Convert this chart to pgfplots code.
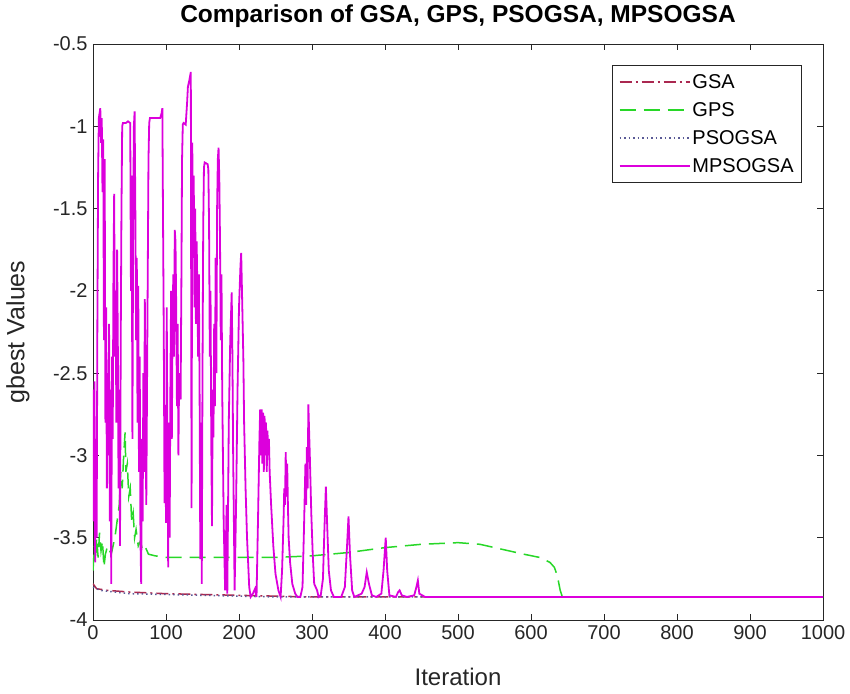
\documentclass[border=0pt]{standalone}
\usepackage{fontspec}
\setmainfont{Liberation Sans}
\usepackage{pgfplots}
\pgfplotsset{compat=1.18}
\definecolor{gsacol}{RGB}{170,40,80}
\definecolor{gpscol}{RGB}{40,215,40}
\definecolor{psocol}{RGB}{90,90,150}
\definecolor{mpcol}{RGB}{220,0,220}
\definecolor{axcol}{RGB}{38,38,38}
\begin{document}
\begin{tikzpicture}
\path[use as bounding box] (-93pt,-73pt) rectangle (757pt,620pt);
\begin{axis}[
  at={(0pt,0pt)}, anchor=south west,
  scale only axis, width=730pt, height=576pt,
  xmin=0, xmax=1000, ymin=-4, ymax=-0.5,
  xtick={0,100,...,1000}, ytick={-4,-3.5,...,-0.5},
  yticklabels={-4,-3.5,-3,-2.5,-2,-1.5,-1,-0.5},
  tick align=inside, major tick length=6pt,
  axis line style={axcol, line width=0.8pt},
  tick style={axcol, line width=0.8pt},
  /pgf/number format/assume math mode=true,
  /pgf/number format/1000 sep={},
  ticklabel style={font=\fontsize{20}{24}\selectfont, text=axcol},
  xticklabel style={yshift=-2pt},
  yticklabel style={xshift=-2pt},
  title={Comparison of GSA, GPS, PSOGSA, MPSOGSA},
  title style={font=\bfseries\fontsize{24.5}{28}\selectfont, at={([yshift=22pt]axis description cs:0.5,1)}, anchor=center},
  xlabel={Iteration},
  xlabel style={font=\fontsize{24}{28}\selectfont, text=axcol, at={([yshift=-57pt]axis description cs:0.5,0)}, anchor=center},
  ylabel={gbest Values},
  ylabel style={font=\fontsize{25}{29}\selectfont, text=axcol, at={([xshift=-75pt]axis description cs:0,0.5)}, anchor=center},
  legend style={at={(1,1)}, anchor=north east, xshift=-21pt, yshift=-21pt,
    font=\fontsize{20}{24}\selectfont, draw=axcol, line width=0.8pt,
    row sep=8.5pt, inner xsep=6pt, inner ysep=7pt},
  legend cell align=left,
  legend image code/.code={\draw[#1] (0pt,0pt) -- (70pt,0pt);},
  every axis plot/.append style={line width=1.5pt},
]
% GSA
\addplot[gsacol, dash pattern=on 12pt off 4pt on 2pt off 4pt] coordinates {
(0,-3.78) (5,-3.81) (20,-3.82) (50,-3.83) (100,-3.84) (200,-3.85) (300,-3.86) (1000,-3.86)};
\addlegendentry{GSA}
% GPS
\addplot[gpscol, dash pattern=on 16pt off 8pt] coordinates {
(0,-3.70) (2,-3.55) (3,-3.65) (5,-3.50) (7,-3.62) (9,-3.47) (11,-3.58) (13,-3.52)
(15,-3.68) (17,-3.60) (20,-3.55) (25,-3.60) (30,-3.50) (33,-3.40) (36,-3.30)
(38,-3.10) (40,-3.20) (42,-3.00) (44,-2.86) (45,-3.10) (47,-3.05) (49,-3.25)
(51,-3.20) (53,-3.40) (55,-3.35) (57,-3.50) (59,-3.45) (62,-3.55) (65,-3.52)
(68,-3.58) (72,-3.56) (76,-3.60) (85,-3.61) (100,-3.62) (150,-3.62) (200,-3.62)
(250,-3.62) (300,-3.61) (350,-3.59) (400,-3.56) (450,-3.54) (500,-3.53)
(530,-3.54) (560,-3.57) (590,-3.60) (612,-3.62) (626,-3.65) (632,-3.68)
(636,-3.73) (640,-3.82) (643,-3.86) (1000,-3.86)};
\addlegendentry{GPS}
% PSOGSA
\addplot[psocol, dash pattern=on 1.5pt off 3pt] coordinates {
(0,-3.80) (10,-3.82) (50,-3.84) (150,-3.85) (250,-3.86) (1000,-3.86)};
\addlegendentry{PSOGSA}
% MPSOGSA
\addplot[mpcol, line width=1.8pt] coordinates {
(0,-2.60) (1,-3.40) (2,-2.55) (3,-3.65) (4,-2.90) (5,-3.50) (6,-2.20) (7,-1.30)
(8,-0.95) (10,-0.89) (11,-1.10) (12,-0.95) (13,-1.40) (14,-1.08) (15,-2.30)
(16,-1.20) (17,-2.80) (18,-2.10) (19,-3.20) (20,-2.50) (21,-3.00) (22,-2.20)
(23,-3.40) (24,-2.60) (25,-3.78) (26,-2.40) (27,-2.90) (28,-1.90) (29,-1.41)
(30,-2.40) (31,-2.00) (32,-2.80) (33,-1.75) (34,-2.30) (35,-3.20) (36,-2.60)
(37,-3.55) (38,-2.30) (39,-1.50) (40,-1.00) (41,-0.98) (45,-0.98) (48,-0.97)
(51,-0.98) (52,-2.00) (53,-1.30) (54,-2.90) (55,-1.60) (56,-1.00) (57,-0.91)
(58,-1.50) (59,-2.30) (60,-1.80) (61,-2.80) (62,-1.97) (63,-3.10) (64,-2.40)
(65,-3.50) (66,-3.78) (67,-2.90) (68,-3.40) (69,-2.50) (70,-3.10) (71,-2.05)
(72,-2.80) (73,-3.30) (74,-2.60) (75,-1.90) (76,-1.20) (77,-0.98) (78,-0.95)
(85,-0.95) (92,-0.95) (94,-0.92) (95,-0.89) (96,-1.61) (97,-2.30) (98,-3.29)
(99,-2.70) (100,-3.41) (101,-2.10) (102,-3.00) (103,-3.68) (104,-2.80)
(105,-3.50) (106,-2.60) (107,-2.00) (108,-2.90) (109,-2.20) (110,-1.90)
(111,-2.40) (112,-1.63) (113,-1.70) (114,-2.10) (115,-2.70) (116,-2.20)
(117,-3.00) (118,-2.50) (119,-2.56) (120,-2.66) (121,-2.00) (122,-1.20)
(123,-0.99) (124,-0.98) (127,-0.99) (129,-0.85) (130,-0.76) (132,-0.72)
(134,-0.67) (135,-3.32) (136,-1.10) (137,-1.80) (138,-1.30) (139,-2.10)
(140,-1.50) (141,-2.20) (142,-1.70) (143,-2.00) (144,-2.40) (145,-1.90)
(146,-2.60) (147,-3.63) (148,-2.80) (149,-3.78) (150,-2.50) (151,-1.60)
(152,-1.25) (153,-1.22) (157,-1.23) (158,-1.26) (159,-1.60) (160,-2.40)
(161,-2.00) (162,-2.90) (163,-3.43) (164,-2.60) (165,-2.89) (166,-2.20)
(167,-2.70) (168,-1.80) (169,-2.50) (170,-1.50) (171,-1.20) (172,-1.13)
(173,-1.31) (174,-1.70) (175,-2.30) (176,-1.90) (177,-2.60) (178,-3.00)
(179,-3.40) (181,-3.82) (183,-3.30) (184,-3.84) (186,-2.80) (188,-2.30)
(190,-2.01) (191,-2.40) (192,-3.00) (193,-3.40) (194,-3.82) (196,-3.30)
(198,-2.60) (200,-2.10) (202,-1.85) (203,-1.77) (205,-2.20) (206,-2.42)
(207,-2.80) (209,-3.20) (211,-3.50) (214,-3.80) (216,-3.86) (219,-3.84)
(222,-3.81) (224,-3.86) (226,-3.40) (228,-2.90) (229,-2.72) (230,-3.00)
(231,-2.72) (232,-3.05) (233,-2.74) (234,-3.10) (235,-2.76) (236,-3.00)
(237,-2.80) (238,-3.10) (239,-2.85) (240,-3.00) (241,-2.90) (242,-3.10)
(244,-3.30) (247,-3.55) (250,-3.72) (254,-3.82) (257,-3.86) (259,-3.70)
(261,-3.40) (262,-3.20) (263,-3.30) (264,-2.98) (265,-3.25) (266,-3.05)
(267,-3.30) (268,-3.50) (270,-3.65) (273,-3.78) (277,-3.84) (280,-3.86)
(284,-3.86) (287,-3.80) (289,-3.45) (291,-3.05) (292,-3.30) (293,-2.95)
(294,-3.20) (295,-2.69) (297,-3.00) (299,-3.35) (301,-3.60) (303,-3.78)
(305,-3.80) (307,-3.82) (309,-3.86) (312,-3.85) (315,-3.75) (317,-3.45)
(319,-3.19) (321,-3.45) (323,-3.70) (326,-3.82) (330,-3.86) (340,-3.86)
(345,-3.80) (348,-3.55) (350,-3.37) (352,-3.60) (355,-3.82) (358,-3.86)
(368,-3.84) (372,-3.80) (375,-3.71) (378,-3.78) (382,-3.85) (388,-3.86)
(395,-3.84) (398,-3.70) (401,-3.50) (403,-3.70) (406,-3.85) (415,-3.86)
(418,-3.83) (420,-3.82) (423,-3.85) (430,-3.86) (440,-3.85) (443,-3.80)
(445,-3.76) (447,-3.84) (455,-3.86) (1000,-3.86)};
\addlegendentry{MPSOGSA}
\end{axis}
\end{tikzpicture}
\end{document}
